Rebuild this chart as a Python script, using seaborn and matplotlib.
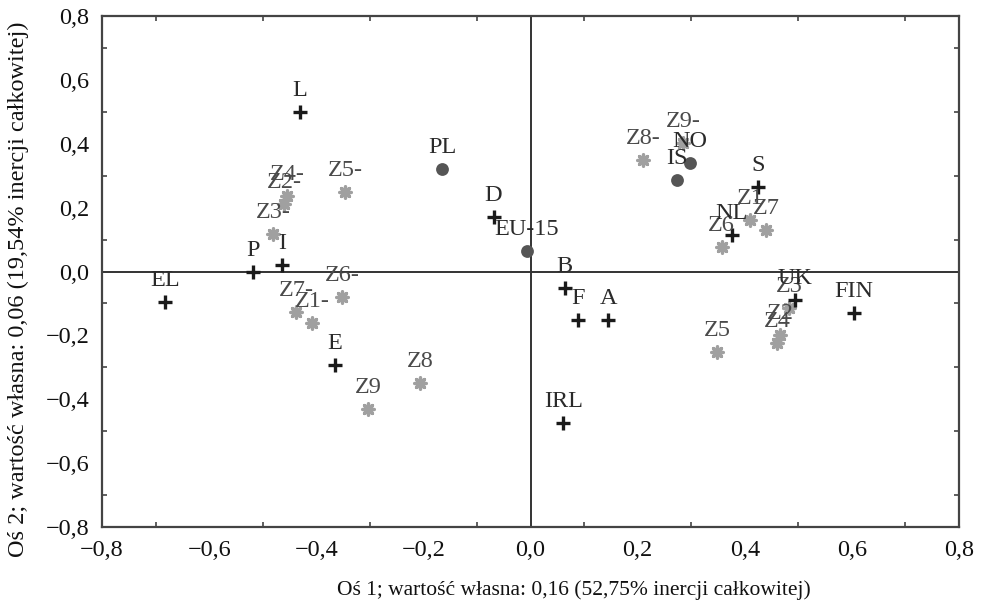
import matplotlib
matplotlib.use("Agg")
import matplotlib.pyplot as plt
from matplotlib.ticker import MultipleLocator, FixedLocator
import seaborn as sns
import pandas as pd

# ---- data -------------------------------------------------------------
country_labels = ["L", "P", "I", "EL", "E", "D", "B", "F", "A", "IRL",
                  "S", "NL", "UK", "FIN"]
country_x = [-0.430, -0.518, -0.464, -0.682, -0.365, -0.069, 0.064, 0.089,
             0.145, 0.061, 0.425, 0.376, 0.494, 0.604]
country_y = [0.499, 0.000, 0.020, -0.095, -0.293, 0.171, -0.052, -0.152,
             -0.152, -0.474, 0.265, 0.114, -0.089, -0.130]

group_labels = ["PL", "EU-15", "NO", "IS"]
group_x = [-0.165, -0.007, 0.298, 0.274]
group_y = [0.321, 0.064, 0.340, 0.287]

var_labels = ["Z1-", "Z2-", "Z3-", "Z4-", "Z5-", "Z6-", "Z7-", "Z8-", "Z9-",
              "Z1", "Z2", "Z3", "Z4", "Z5", "Z6", "Z7", "Z8", "Z9"]
var_x = [-0.408, -0.460, -0.480, -0.455, -0.346, -0.352, -0.438, 0.210, 0.285,
         0.410, 0.466, 0.483, 0.460, 0.348, 0.357, 0.440, -0.206, -0.303]
var_y = [-0.161, 0.210, 0.117, 0.236, 0.249, -0.080, -0.127, 0.349, 0.402,
         0.161, -0.200, -0.115, -0.224, -0.252, 0.077, 0.130, -0.349, -0.431]

tick_values = [-0.8, -0.6, -0.4, -0.2, 0.0, 0.2, 0.4, 0.6, 0.8]
tick_text = ["\u22120,8", "\u22120,6", "\u22120,4", "\u22120,2", "0,0",
             "0,2", "0,4", "0,6", "0,8"]
x_title = "Oś 1; wartość własna: 0,16 (52,75% inercji całkowitej)"
y_title = "Oś 2; wartość własna: 0,06 (19,54% inercji całkowitej)"

# ---- frames -----------------------------------------------------------
df_c = pd.DataFrame({"x": country_x, "y": country_y, "label": country_labels})
df_g = pd.DataFrame({"x": group_x, "y": group_y, "label": group_labels})
df_v = pd.DataFrame({"x": var_x, "y": var_y, "label": var_labels})

sns.set_style("white")
plt.rcParams["font.family"] = ["Liberation Serif", "DejaVu Serif"]

fig = plt.figure(figsize=(9.85, 6.1), dpi=100)
ax = fig.add_axes([0.1036, 0.136, 0.870, 0.8378])

ax.axhline(0, color="#333333", lw=1.4, zorder=1)
ax.axvline(0, color="#333333", lw=1.4, zorder=1)

sns.scatterplot(data=df_v, x="x", y="y", ax=ax, marker=(8, 2, 0), s=65,
                color="#a0a0a0", edgecolor="#a0a0a0", linewidth=2.4,
                legend=False, zorder=3)
sns.scatterplot(data=df_g, x="x", y="y", ax=ax, marker="o", s=85,
                color="#555555", edgecolor="#555555", linewidth=0,
                legend=False, zorder=3)
sns.scatterplot(data=df_c, x="x", y="y", ax=ax, marker="+", s=90,
                color="#1a1a1a", linewidth=2.4, legend=False, zorder=4)

for d, col in ((df_v, "#4a4a4a"), (df_g, "#2a2a2a"), (df_c, "#2a2a2a")):
    for _, r in d.iterrows():
        ax.annotate(r["label"], (r["x"], r["y"]), xytext=(0, 16),
                    textcoords="offset pixels", ha="center", va="baseline",
                    fontsize=17.5, color=col, zorder=5)

ax.set_xlim(-0.8, 0.8)
ax.set_ylim(-0.8, 0.8)
ax.xaxis.set_major_locator(FixedLocator(tick_values))
ax.yaxis.set_major_locator(FixedLocator(tick_values))
ax.set_xticklabels(tick_text)
ax.set_yticklabels(tick_text)
ax.xaxis.set_minor_locator(MultipleLocator(0.1))
ax.yaxis.set_minor_locator(MultipleLocator(0.1))
ax.tick_params(which="both", direction="in", top=True, right=True,
               bottom=True, left=True, color="#444444", width=1.2)
ax.tick_params(which="major", length=0, labelsize=17.5, pad=9, labelcolor="#111111")
ax.tick_params(which="minor", length=3.5)
for s in ax.spines.values():
    s.set_color("#444444")
    s.set_linewidth(1.6)

ax.set_xlabel(x_title, fontsize=15.5, color="#111111")
ax.set_ylabel(y_title, fontsize=17.5, color="#111111")
ax.xaxis.set_label_coords(0.551, -0.123)
ax.xaxis.label.set_verticalalignment("center")
ax.yaxis.set_label_coords(-0.098, 0.466)
ax.yaxis.label.set_verticalalignment("center")

fig.savefig("out.png", dpi=100, facecolor="white")
